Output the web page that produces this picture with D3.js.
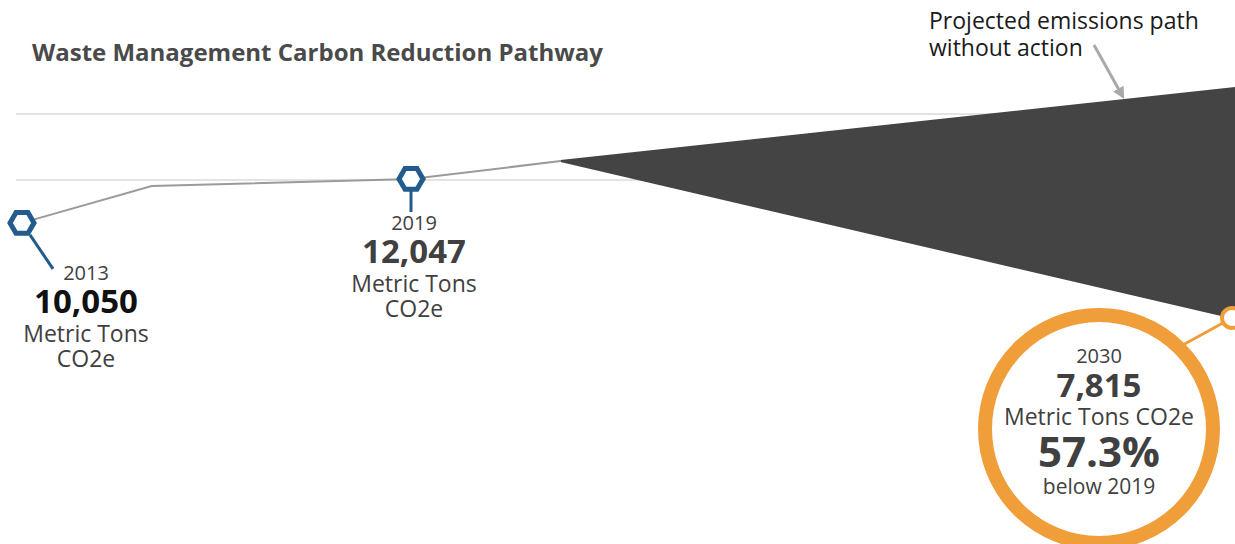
<!DOCTYPE html>
<html>
<head>
<meta charset="utf-8">
<script src="https://cdn.jsdelivr.net/npm/d3@7"></script>
<style>
  body { margin: 0; background: #fff; }
  text { font-family: "Open Sans", sans-serif; }
</style>
</head>
<body>
<div id="chart"></div>
<script>
(function() {

    // Chart size
    var width = 1235;
    var height = 544;

    // Emissions history (metric tons CO2e)
    var years = [2013, 2015, 2019, 2021];
    var emissions = [10050, 11730, 12047, 12860];

    // Projections for 2030
    var targetYear = 2030;
    var noActionValue = 16180;
    var targetValue = 5730;

    // Gridline values
    var gridValues = [12000, 15000];

    // Labelled milestones
    var milestoneYears = [2013, 2019];
    var milestoneValues = ["10,050", "12,047"];
    var targetLabel = ["2030", "7,815", "Metric Tons CO2e", "57.3%", "below 2019"];

    var title = "Waste Management Carbon Reduction Pathway";
    var noteLines = ["Projected emissions path", "without action"];

    var svg = d3.select("#chart")
        .append("svg")
        .attr("width", width)
        .attr("height", height);

    // Scales (years are not evenly spaced in the original)
    var x = d3.scaleLinear()
        .domain([2013, 2019, 2030])
        .range([22, 411, 1234]);

    var y = d3.scaleLinear()
        .domain([0, 15000])
        .range([444, 114]);

    // Title
    svg.append("text")
        .attr("x", 32)
        .attr("y", 61)
        .attr("font-size", 24)
        .attr("font-weight", "bold")
        .attr("fill", "#4a4a4a")
        .text(title);

    // Gridlines
    svg.append("g")
        .selectAll("line")
        .data(gridValues)
        .enter().append("line")
        .attr("x1", 16)
        .attr("x2", width)
        .attr("y1", d => y(d))
        .attr("y2", d => y(d))
        .attr("stroke", "#e3e3e3")
        .attr("stroke-width", 2);

    // Wedge between the no-action path and the target path
    var last = years.length - 1;
    var wedge = [
        [x(years[last]), y(emissions[last])],
        [x(targetYear), y(noActionValue)],
        [x(targetYear), y(targetValue)]
    ];
    svg.append("path")
        .attr("d", "M" + wedge.join("L") + "Z")
        .attr("fill", "#444444")
        .attr("stroke", "#444444")
        .attr("stroke-width", 2);

    // Historical line
    var line = d3.line()
        .x((d, i) => x(years[i]))
        .y(d => y(d));

    svg.append("path")
        .datum(emissions)
        .attr("d", line)
        .attr("fill", "none")
        .attr("stroke", "#9b9b9b")
        .attr("stroke-width", 2);

    // Annotation for the no-action path
    svg.append("defs").append("marker")
        .attr("id", "arrow")
        .attr("viewBox", "0 0 10 10")
        .attr("refX", 8)
        .attr("refY", 5)
        .attr("markerWidth", 4)
        .attr("markerHeight", 4)
        .attr("orient", "auto")
        .append("path")
        .attr("d", "M0,0L10,5L0,10Z")
        .attr("fill", "#a9a9a9");

    svg.append("text")
        .attr("font-size", 23)
        .attr("fill", "#1a1a1a")
        .selectAll("tspan")
        .data(noteLines)
        .enter().append("tspan")
        .attr("x", 929)
        .attr("y", (d, i) => 29 + i * 27)
        .text(d => d);

    svg.append("line")
        .attr("x1", 1094)
        .attr("y1", 45)
        .attr("x2", 1123)
        .attr("y2", 97)
        .attr("stroke", "#a9a9a9")
        .attr("stroke-width", 3)
        .attr("marker-end", "url(#arrow)");

    // Hexagon markers for 2013 and 2019
    var hexR = 12;
    var hexPts = d3.range(6).map(function(i) {
        var a = Math.PI / 3 * i;
        return [hexR * Math.cos(a), hexR * Math.sin(a)];
    });
    var blue = "#225b8c";

    var ms = svg.append("g")
        .selectAll("g")
        .data(milestoneYears)
        .enter().append("g")
        .attr("transform", function(d) {
            var v = emissions[years.indexOf(d)];
            return "translate(" + x(d) + "," + y(v) + ")";
        });

    // leader lines
    ms.append("line")
        .attr("x1", (d, i) => i === 0 ? 8 : 0)
        .attr("y1", 12)
        .attr("x2", (d, i) => i === 0 ? 31 : 0)
        .attr("y2", (d, i) => i === 0 ? 46 : 33)
        .attr("stroke", blue)
        .attr("stroke-width", 3);

    ms.append("path")
        .attr("d", "M" + hexPts.join("L") + "Z")
        .attr("fill", "#fff")
        .attr("stroke", blue)
        .attr("stroke-width", 5);

    // milestone labels
    var labelPos = [{ cx: 86, top: 280 }, { cx: 414, top: 230 }];
    milestoneYears.forEach(function(yr, i) {
        var p = labelPos[i];
        var g = svg.append("g").attr("text-anchor", "middle");
        g.append("text")
            .attr("x", p.cx).attr("y", p.top)
            .attr("font-size", 20).attr("fill", "#404040")
            .text(yr);
        g.append("text")
            .attr("x", p.cx).attr("y", p.top + 33)
            .attr("font-size", 33).attr("font-weight", "bold")
            .attr("fill", i === 0 ? "#111" : "#404040")
            .text(milestoneValues[i]);
        g.append("text")
            .attr("x", p.cx).attr("y", p.top + 62)
            .attr("font-size", 23).attr("fill", "#404040")
            .text("Metric Tons");
        g.append("text")
            .attr("x", p.cx).attr("y", p.top + 87)
            .attr("font-size", 23).attr("fill", "#404040")
            .text("CO2e");
    });

    // 2030 target callout
    var orange = "#f09e3a";
    var cx = 1099, cy = 429;

    svg.append("line")
        .attr("x1", cx + 94 * Math.cos(-Math.PI / 4))
        .attr("y1", cy + 94 * Math.sin(-Math.PI / 4) - 8)
        .attr("x2", x(targetYear) - 2)
        .attr("y2", y(targetValue))
        .attr("stroke", orange)
        .attr("stroke-width", 3);

    svg.append("circle")
        .attr("cx", x(targetYear) - 2)
        .attr("cy", y(targetValue))
        .attr("r", 10)
        .attr("fill", "#fff")
        .attr("stroke", orange)
        .attr("stroke-width", 4);

    svg.append("circle")
        .attr("cx", cx)
        .attr("cy", cy)
        .attr("r", 114)
        .attr("fill", "#fff")
        .attr("stroke", orange)
        .attr("stroke-width", 14);

    var tSizes = [20, 33, 23, 42, 21];
    var tBase = [363, 397, 425, 467, 494];
    var tBold = [false, true, false, true, false];
    svg.append("g")
        .attr("text-anchor", "middle")
        .selectAll("text")
        .data(targetLabel)
        .enter().append("text")
        .attr("x", cx)
        .attr("y", (d, i) => tBase[i])
        .attr("font-size", (d, i) => tSizes[i])
        .attr("font-weight", (d, i) => tBold[i] ? "bold" : "normal")
        .attr("fill", "#404040")
        .text(d => d);

})();
</script>
</body>
</html>
